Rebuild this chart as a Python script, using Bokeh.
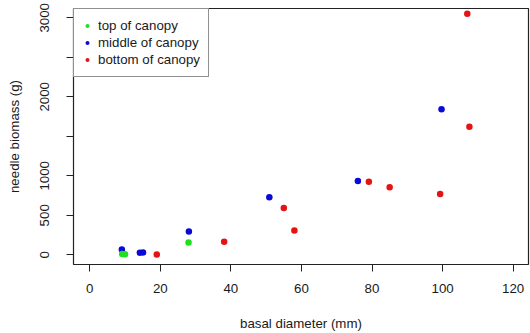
import math
from bokeh.plotting import figure
from bokeh.models import Range1d, FixedTicker, Legend, LegendItem
from bokeh.embed import file_html
from bokeh.resources import INLINE

# ---- data ----
top_x = [9.2, 10.0, 28.0]
top_y = [10, 8, 155]
mid_x = [9.1, 14.2, 15.1, 28.1, 50.9, 76.0, 99.7]
mid_y = [67, 25, 28, 294, 727, 934, 1843]
bot_x = [19.0, 38.1, 55.0, 58.0, 79.1, 85.0, 99.3, 107.0, 107.6]
bot_y = [4, 164, 593, 307, 925, 854, 770, 3050, 1620]

x_ticks = [0, 20, 40, 60, 80, 100, 120]
y_ticks = [0, 500, 1000, 1500, 2000, 2500, 3000]
y_hidden = [1500, 2500]

labels = ["top of canopy", "middle of canopy", "bottom of canopy"]
colors = ["#1fe01f", "#0a0ad8", "#e41414"]

FONT = "Liberation Sans"
FS = "13.3px"

p = figure(width=530, height=333, output_backend="svg", toolbar_location=None,
           x_range=Range1d(-4.6, 124.35), y_range=Range1d(-123, 3118))
p.min_border = 0
p.min_border_left = 73
p.min_border_right = 2
p.min_border_top = 8
p.min_border_bottom = 69

p.grid.visible = False
p.outline_line_color = "#222222"
p.outline_line_width = 1.2
p.background_fill_color = "white"
p.border_fill_color = "white"

r_mid = p.scatter(mid_x, mid_y, size=6.5, color=colors[1], line_color=None)
r_bot = p.scatter(bot_x, bot_y, size=6.5, color=colors[2], line_color=None)
r_top = p.scatter(top_x, top_y, size=6.5, color=colors[0], line_color=None)

for ax in (p.xaxis[0], p.yaxis[0]):
    ax.axis_line_color = None
    ax.major_tick_in = 0
    ax.major_tick_out = 7
    ax.major_tick_line_color = "#222222"
    ax.minor_tick_line_color = None
    ax.major_label_text_font = FONT
    ax.major_label_text_font_size = FS
    ax.major_label_text_color = "#1a1a1a"
    ax.axis_label_text_font = FONT
    ax.axis_label_text_font_size = FS
    ax.axis_label_text_font_style = "normal"
    ax.axis_label_text_color = "#1a1a1a"

p.xaxis.ticker = FixedTicker(ticks=x_ticks)
p.yaxis.ticker = FixedTicker(ticks=y_ticks)
p.yaxis.major_label_overrides = {t: " " for t in y_hidden}
p.yaxis.major_label_orientation = "parallel"

p.xaxis.axis_label = "basal diameter (mm)"
p.yaxis.axis_label = "needle biomass (g)"
p.xaxis.major_label_standoff = 12
p.xaxis.axis_label_standoff = 20
p.yaxis.major_label_standoff = 14
p.yaxis.axis_label_standoff = 13

legend = Legend(items=[
    LegendItem(label=labels[0], renderers=[r_top]),
    LegendItem(label=labels[1], renderers=[r_mid]),
    LegendItem(label=labels[2], renderers=[r_bot]),
], location="top_left")
legend.margin = 0
legend.padding = 8
legend.spacing = 0
legend.label_height = 17
legend.glyph_height = 17
legend.glyph_width = 10
legend.label_standoff = 6
legend.border_line_color = "#222222"
legend.border_line_width = 1.2
legend.background_fill_alpha = 1.0
legend.label_text_font = FONT
legend.label_text_font_size = FS
legend.label_text_color = "#1a1a1a"
p.add_layout(legend)

open("out.html", "w").write(file_html(p, INLINE))
